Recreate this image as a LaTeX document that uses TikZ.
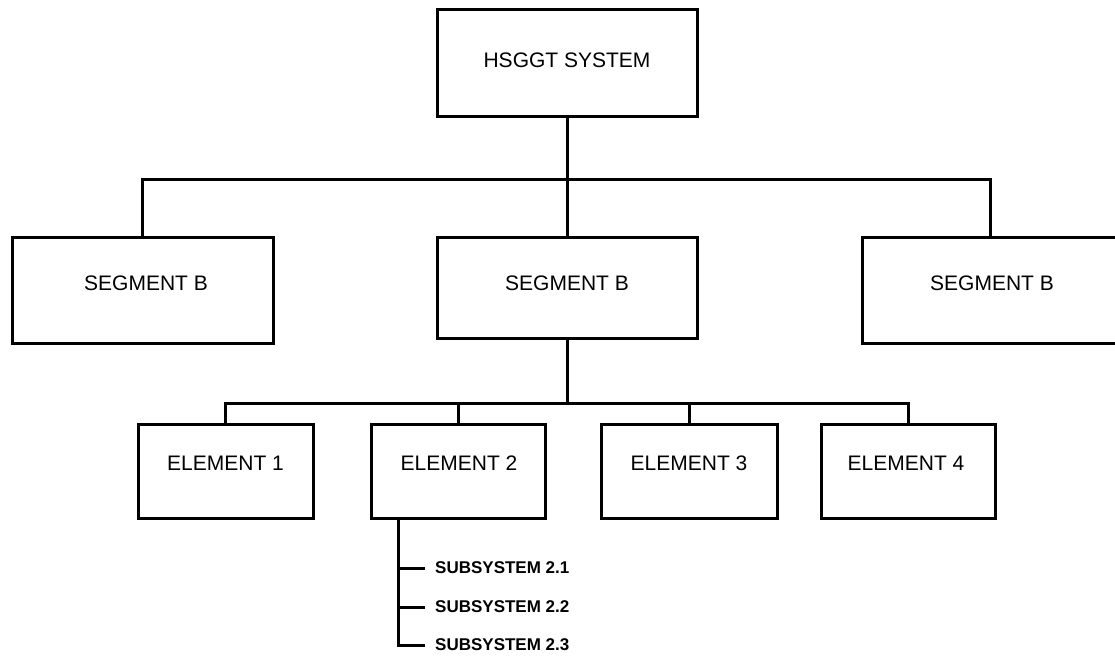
\documentclass[tikz,border=0pt]{standalone}
\usepackage{fontspec}
\setmainfont{Liberation Sans}
\begin{document}
\begin{tikzpicture}[x=1pt,y=-1pt,
  box/.style={draw,line width=3pt,rectangle,inner sep=0pt},
  lbl/.style={inner sep=0pt,font=\fontsize{21}{24}\selectfont},
  sublbl/.style={inner sep=0pt,anchor=west,font=\fontsize{17}{20}\selectfont\bfseries},
  conn/.style={line width=3pt,line cap=rect}]
\useasboundingbox (0,0) rectangle (1115,656);
\clip (0,0) rectangle (1115,656);
% boxes
\node[box,minimum width=260pt,minimum height=107pt] (top) at (567,62.5) {};
\node[box,minimum width=261pt,minimum height=106pt] (segL) at (142.5,290) {};
\node[box,minimum width=260pt,minimum height=101pt] (segM) at (567,287.5) {};
\node[box,minimum width=256pt,minimum height=106pt] (segR) at (990,290) {};
\node[box,minimum width=175pt,minimum height=94pt] (e1) at (225.5,471) {};
\node[box,minimum width=174pt,minimum height=94pt] (e2) at (458,471) {};
\node[box,minimum width=176pt,minimum height=94pt] (e3) at (689,471) {};
\node[box,minimum width=174pt,minimum height=94pt] (e4) at (908,471) {};
% labels
\node[lbl] (ttop) at (567,60) {HSGGT SYSTEM};
\node[lbl] (tsegL) at (146,283) {SEGMENT B};
\node[lbl] (tsegM) at (567,283) {SEGMENT B};
\node[lbl] (tsegR) at (992,283) {SEGMENT B};
\node[lbl] (te1) at (225.5,463) {ELEMENT 1};
\node[lbl] (te2) at (459,463) {ELEMENT 2};
\node[lbl] (te3) at (689,463) {ELEMENT 3};
\node[lbl] (te4) at (906,463) {ELEMENT 4};
\node[sublbl] (s1) at (435,568) {SUBSYSTEM 2.1};
\node[sublbl] (s2) at (435,607) {SUBSYSTEM 2.2};
\node[sublbl] (s3) at (435,645) {SUBSYSTEM 2.3};
% connectors
\coordinate (busT) at (567,179);
\coordinate (busE) at (567,403);
\coordinate (s0) at (398,518);
\draw[conn] (segL.north) |- (busT) -| (segR.north);
\draw[conn] (top.south) -- (segM.north);
\draw[conn] (segM.south) -- (busE);
\draw[conn] (e1.north) |- (busE) -| (e4.north);
\draw[conn] (e2.north) -- (e2.north |- busE);
\draw[conn] (e3.north) -- (e3.north |- busE);
\draw[conn] (s0) |- ([xshift=-12pt]s3.west);
\draw[conn] (s0 |- s1) -- ([xshift=-12pt]s1.west);
\draw[conn] (s0 |- s2) -- ([xshift=-12pt]s2.west);
\end{tikzpicture}
\end{document}
